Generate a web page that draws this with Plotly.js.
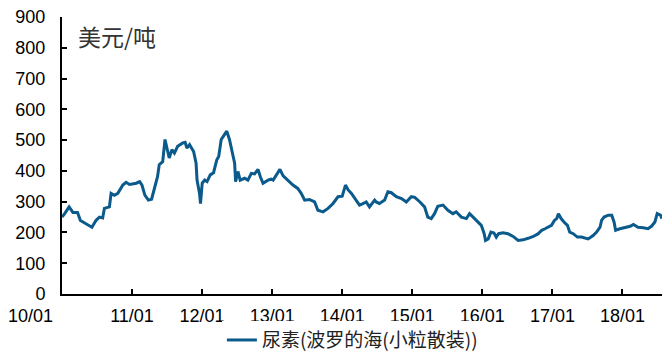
<!DOCTYPE html>
<html>
<head>
<meta charset="utf-8">
<script src="https://cdn.plot.ly/plotly-3.0.1.min.js"></script>
<style>html,body{margin:0;padding:0;background:#fff;}#chart{width:662px;height:351px;}</style>
</head>
<body>
<div id="chart"></div>
<script>
const seriesName = "尿素(波罗的海(小粒散装))";
const unitLabel = "美元/吨";
const tickDates = ["2010-01-01","2011-01-01","2012-01-01","2013-01-01","2014-01-01","2015-01-01","2016-01-01","2017-01-01","2018-01-01"];
const tickLabels = ["10/01","11/01","12/01","13/01","14/01","15/01","16/01","17/01","18/01"];
const dates = [
"2010-01-01","2010-01-15","2010-02-07","2010-02-27","2010-03-23","2010-04-07","2010-05-06","2010-06-06","2010-06-27","2010-07-15",
"2010-08-01","2010-08-10","2010-09-05","2010-09-14","2010-10-01","2010-10-19","2010-11-14","2010-12-01","2010-12-19","2011-01-23",
"2011-02-10","2011-02-22","2011-03-09","2011-03-27","2011-04-13","2011-04-27","2011-05-14","2011-05-23","2011-06-10","2011-06-22",
"2011-07-14","2011-07-28","2011-08-10","2011-08-27","2011-09-23","2011-10-05","2011-10-14","2011-10-28","2011-11-18","2011-12-01",
"2011-12-06","2011-12-19","2011-12-24","2012-01-02","2012-01-15","2012-01-27","2012-02-13","2012-03-01","2012-03-18","2012-03-28",
"2012-04-10","2012-04-27","2012-05-09","2012-05-23","2012-06-06","2012-06-19","2012-06-24","2012-07-06","2012-07-18","2012-08-10",
"2012-08-27","2012-09-14","2012-10-01","2012-10-19","2012-10-31","2012-11-14","2012-12-10","2012-12-27","2013-01-06","2013-01-23",
"2013-02-10","2013-02-27","2013-03-23","2013-04-19","2013-05-14","2013-06-01","2013-06-19","2013-07-14","2013-08-10","2013-08-27",
"2013-09-23","2013-10-19","2013-11-14","2013-12-10","2014-01-01","2014-01-18","2014-02-01","2014-02-18","2014-03-14","2014-04-01",
"2014-04-19","2014-05-06","2014-05-23","2014-06-19","2014-06-27","2014-07-14","2014-08-10","2014-08-27","2014-09-14","2014-10-10",
"2014-11-06","2014-12-01","2014-12-27","2015-01-14","2015-02-10","2015-03-06","2015-03-23","2015-04-10","2015-04-27","2015-05-14",
"2015-06-10","2015-07-06","2015-08-01","2015-08-18","2015-09-14","2015-10-10","2015-10-27","2015-11-14","2015-12-10","2015-12-27",
"2016-01-11","2016-01-18","2016-02-01","2016-02-15","2016-03-02","2016-03-14","2016-03-26","2016-04-18","2016-05-14","2016-06-10",
"2016-07-06","2016-08-01","2016-08-27","2016-09-23","2016-10-19","2016-11-06","2016-11-23","2016-12-10","2016-12-27","2017-01-11",
"2017-01-23","2017-02-01","2017-02-15","2017-03-02","2017-03-20","2017-04-01","2017-04-19","2017-05-11","2017-06-01","2017-07-06",
"2017-08-01","2017-08-19","2017-09-06","2017-09-14","2017-09-27","2017-10-19","2017-11-06","2017-11-18","2017-11-26","2017-12-19",
"2018-01-14","2018-02-10","2018-02-27","2018-03-23","2018-04-19","2018-05-14","2018-06-01","2018-06-19","2018-07-01","2018-07-18",
"2018-07-26"
];
const prices = [
250,261,283,265,265,239,228,217,239,250,
247,278,283,327,321,327,354,363,356,360,
365,354,321,305,308,343,381,420,430,502,
442,469,458,480,491,493,474,485,463,425,
370,327,294,360,370,365,387,394,436,447,
502,518,529,502,458,425,365,398,370,376,
370,392,390,405,381,360,370,373,370,387,
405,384,370,354,343,327,305,307,299,272,
267,278,294,316,318,354,338,327,305,289,
294,299,283,305,299,294,305,332,329,316,
310,299,316,314,299,283,250,245,261,285,
289,272,261,267,250,245,261,250,234,223,
196,174,179,201,198,185,196,199,196,187,
174,176,181,187,196,207,212,217,223,239,
245,261,245,234,223,201,196,185,185,179,
190,201,217,239,250,256,256,234,207,212,
217,220,226,217,215,212,220,234,261,256,
245
];

const baseFont = "Liberation Sans, Arial, Noto Sans CJK SC, sans-serif";
// first tick label is drawn left-shifted in the reference, so it is placed as an annotation
const shownTickText = tickLabels.map((t, i) => i === 0 ? "" : t);
const trace = {
  x: dates, y: prices, type: "scatter", mode: "lines", name: seriesName,
  line: {color: "#0b5a8c", width: 3}
};
const layout = {
  width: 662, height: 351,
  margin: {l: 62, r: 0, t: 17, b: 57},
  paper_bgcolor: "#fff", plot_bgcolor: "#fff",
  font: {family: baseFont, size: 18, color: "#000"},
  showlegend: true,
  legend: {orientation: "h", x: 0.484, xanchor: "center", xref: "paper",
    y: 0.031, yanchor: "middle", yref: "container",
    font: {family: "Noto Sans CJK SC, Liberation Sans, sans-serif", size: 19, color: "#222"}},
  xaxis: {
    type: "date", range: ["2010-01-01", "2018-07-26"],
    tickvals: tickDates, ticktext: shownTickText,
    ticks: "inside", ticklen: 5, tickwidth: 2, tickcolor: "#000",
    ticklabelstandoff: 4,
    showline: true, linecolor: "#000", linewidth: 2,
    showgrid: false, zeroline: false, automargin: false,
    tickfont: {size: 18, color: "#000"}
  },
  yaxis: {
    range: [0, 900], tickvals: [0,100,200,300,400,500,600,700,800,900],
    ticks: "inside", ticklen: 5, tickwidth: 2, tickcolor: "#000",
    ticklabelstandoff: 11,
    showline: true, linecolor: "#000", linewidth: 2,
    showgrid: false, zeroline: false, automargin: false,
    tickfont: {size: 18, color: "#000"}
  },
  annotations: [{
    text: unitLabel, xref: "paper", yref: "paper", x: 0.024, y: 0.93,
    xanchor: "left", yanchor: "middle", showarrow: false,
    font: {family: "Noto Sans CJK SC, sans-serif", size: 23, color: "#333"}
  }, {
    text: tickLabels[0], xref: "paper", yref: "paper", x: -0.052, y: -0.079,
    xanchor: "center", yanchor: "middle", showarrow: false,
    font: {family: baseFont, size: 18, color: "#000"}
  }]
};
Plotly.newPlot("chart", [trace], layout, {displayModeBar: false, staticPlot: true});
</script>
</body>
</html>
